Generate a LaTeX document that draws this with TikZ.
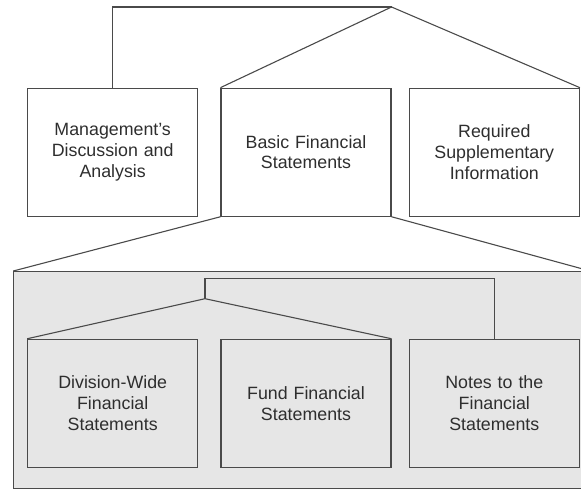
\documentclass[tikz,border=0pt]{standalone}
\usepackage{fontspec}
\setmainfont{Liberation Sans}
\definecolor{linec}{HTML}{4A4A4A}
\definecolor{textc}{HTML}{2E2E2E}
\definecolor{panelc}{HTML}{E6E6E6}
\begin{document}
\begin{tikzpicture}[x=1pt,y=-1pt,
  box/.style={draw=linec, line width=1.1pt, minimum width=170pt, minimum height=128pt,
    text width=160pt, align=center, inner sep=0pt, text=textc,
    font=\fontsize{17.8}{20.7}\selectfont},
  conn/.style={draw=linec, line width=1.1pt, line join=miter}]
\useasboundingbox (0,0) rectangle (581,489);
% gray panel
\node[draw=linec, line width=1.1pt, fill=panelc, minimum width=572pt, minimum height=216.7pt,
  inner sep=0pt, anchor=north west] (panel) at (13.3,271) {};
% top row
\node[box] (mda) at (112.7,152.2) {Management's\\Discussion and\\Analysis};
\node[box] (bfs) at (306,152.2) {Basic Financial\\Statements};
\node[box] (rsi) at (494.3,152.2) {Required\\Supplementary\\Information};
% bottom row
\node[box, fill=panelc] (dws) at (112.7,403.3) {Division-Wide\\Financial\\Statements};
\node[box, fill=panelc] (ffs) at (306,403.3) {Fund Financial\\Statements};
\node[box, fill=panelc] (nfs) at (494.3,403.3) {Notes to the\\Financial\\Statements};
% top connectors
\coordinate (top) at (bfs.north east |- 0,7);
\draw[conn] (mda.north) |- (top);
\draw[conn] (bfs.north west) -- (top) -- (rsi.north east);
% expansion lines
\draw[conn] (bfs.south west) -- (panel.north west);
\draw[conn] (bfs.south east) -- (581,268.5);
% inner connectors
\coordinate (ipeak) at (205,298.7);
\draw[conn] (dws.north west) -- (ipeak) -- (ffs.north east);
\draw[conn] (ipeak) -- (205,278.3) -| (nfs.north);
\end{tikzpicture}
\end{document}
